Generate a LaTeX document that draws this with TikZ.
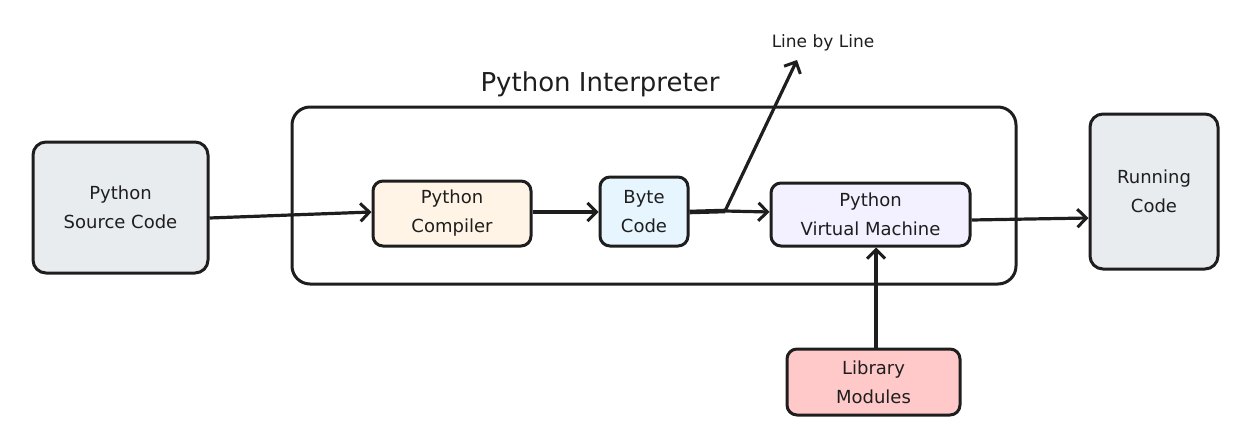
\documentclass[tikz,border=0pt]{standalone}
\usepackage{fontspec}
\setmainfont{DejaVu Sans}
\usetikzlibrary{arrows.meta}
\definecolor{ink}{HTML}{1E1E1E}
\definecolor{grayfill}{HTML}{E9ECEF}
\definecolor{orangefill}{HTML}{FFF4E6}
\definecolor{bluefill}{HTML}{E7F5FF}
\definecolor{violetfill}{HTML}{F3F0FF}
\definecolor{redfill}{HTML}{FFC9C9}
\tikzset{
  box/.style={draw=ink, line width=3pt, rounded corners=13pt, align=center,
    font=\fontsize{18}{29}\selectfont, text=ink, inner sep=0pt},
  smallbox/.style={box, rounded corners=10pt},
  conn/.style={draw=ink, line width=3.2pt, -{Straight Barb[length=9pt,width=18pt,line width=3pt]}},
  heavy/.style={line width=4.6pt},
}
\begin{document}
\begin{tikzpicture}[x=1pt,y=-1pt]
\useasboundingbox (0,0) rectangle (1238,439);
% container
\node[box, rounded corners=18pt, minimum width=724pt, minimum height=177pt] (interp) at (654,195.5) {};
\node[font=\fontsize{26}{30}\selectfont, text=ink] (title) at (600,84) {Python Interpreter};
% nodes
\node[box, fill=grayfill, minimum width=175pt, minimum height=131pt] (src) at (120.5,207.5) {Python\\Source Code};
\node[smallbox, fill=orangefill, minimum width=158pt, minimum height=65pt] (comp) at (452,213.5) {Python\\Compiler};
\node[smallbox, fill=bluefill, minimum width=88pt, minimum height=69pt] (byte) at (644,211.5) {Byte\\Code};
\node[smallbox, fill=violetfill, minimum width=199pt, minimum height=63pt] (pvm) at (870.5,214.5) {Python\\Virtual Machine};
\node[box, fill=grayfill, minimum width=128pt, minimum height=155pt] (run) at (1154,191.5) {Running\\Code};
\node[smallbox, fill=redfill, minimum width=173pt, minimum height=66pt] (lib) at (873.5,382) {Library\\Modules};
\node[font=\fontsize{17}{20}\selectfont, text=ink] (lbl) at (823,43) {Line by Line};
% connectors
\draw[conn] (src.east |- 0,218) -- (comp.west |- 0,212);
\draw[conn, heavy] (comp.east |- 0,212) -- (byte.west |- 0,212);
\coordinate (fork) at (725,211);
\draw[ink, heavy] (byte.east |- 0,212) -- (fork);
\draw[conn] (fork) -- (pvm.west |- 0,212);
\coordinate (lbltip) at (797,60);
\draw[conn] (fork) -- (lbltip);
\draw[conn] (pvm.east |- 0,220) -- (run.west |- 0,218);
\draw[conn] (lib.north -| 876,0) -- (pvm.south -| 876,0);
\end{tikzpicture}
\end{document}
